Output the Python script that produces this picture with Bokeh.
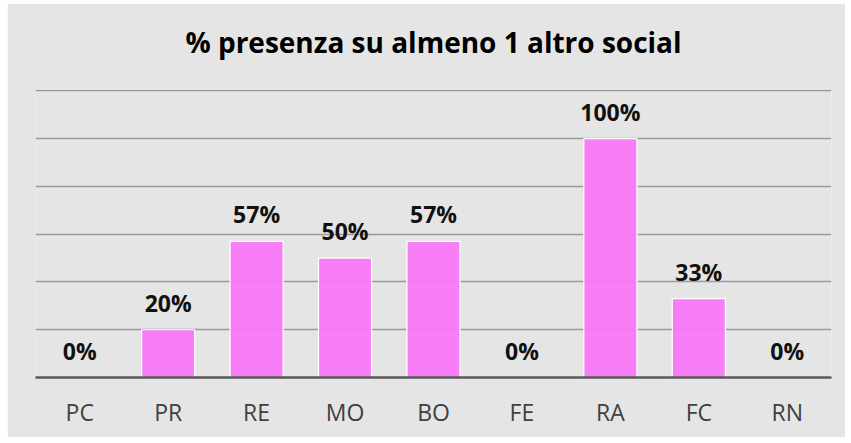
from bokeh.plotting import figure
from bokeh.models import ColumnDataSource, LabelSet, Range1d, FixedTicker, CategoricalAxis
from bokeh.core.properties import value
from bokeh.embed import file_html
from bokeh.resources import INLINE

title_text = "% presenza su almeno 1 altro social"
categories = ["PC", "PR", "RE", "MO", "BO", "FE", "RA", "FC", "RN"]
values = [0, 20, 57, 50, 57, 0, 100, 33, 0]
labels = ["0%", "20%", "57%", "50%", "57%", "0%", "100%", "33%", "0%"]
grid_ticks = [0, 20, 40, 60, 80, 100, 120]

source = ColumnDataSource(data=dict(cat=categories, val=values, lab=labels))

BG = "#e5e5e5"
p = figure(x_range=categories, y_range=Range1d(0, 120.6), width=838, height=434,
           output_backend="svg", toolbar_location=None,
           min_border_left=28, min_border_right=14, min_border_top=86, min_border_bottom=60,
           margin=(3, 0, 0, 7))

p.background_fill_color = BG
p.border_fill_color = BG
p.outline_line_color = None

# title drawn as the label of an otherwise invisible top axis
top_axis = CategoricalAxis(axis_label=title_text)
top_axis.axis_line_color = None
top_axis.major_tick_line_color = None
top_axis.minor_tick_line_color = None
top_axis.major_tick_out = 0
top_axis.major_tick_in = 0
top_axis.major_label_text_font_size = "1px"
top_axis.major_label_text_color = None
top_axis.major_label_standoff = 0
top_axis.axis_label_text_font = "Open Sans"
top_axis.axis_label_text_font_style = "bold"
top_axis.axis_label_text_font_size = "28px"
top_axis.axis_label_text_color = "#000000"
top_axis.axis_label_standoff = 29
p.add_layout(top_axis, "above")

p.vbar(x="cat", top="val", width=0.6, source=source,
       fill_color="#F878F8", line_color="#FFFFFF", line_width=1.2, fill_alpha=0.95)

labelset = LabelSet(x="cat", y="val", text="lab", source=source,
                    y_offset=18, text_align="center", text_baseline="alphabetic",
                    text_font=value("Open Sans"), text_font_style="bold",
                    text_font_size="23px", text_color="#111111")
p.add_layout(labelset)

p.yaxis.visible = False
p.ygrid.ticker = FixedTicker(ticks=grid_ticks)
p.ygrid.grid_line_color = "#9a9a9a"
p.ygrid.grid_line_width = 1.5
p.xgrid.grid_line_color = None

bottom_axis = p.below[0]
bottom_axis.axis_line_color = "#595959"
bottom_axis.axis_line_width = 2.5
bottom_axis.major_tick_line_color = None
bottom_axis.minor_tick_line_color = None
bottom_axis.major_label_text_font = "Open Sans"
bottom_axis.major_label_text_font_size = "23px"
bottom_axis.major_label_text_color = "#404040"
bottom_axis.major_label_standoff = 12
p.x_range.range_padding = 0.0

open("out.html", "w").write(file_html(p, INLINE))
